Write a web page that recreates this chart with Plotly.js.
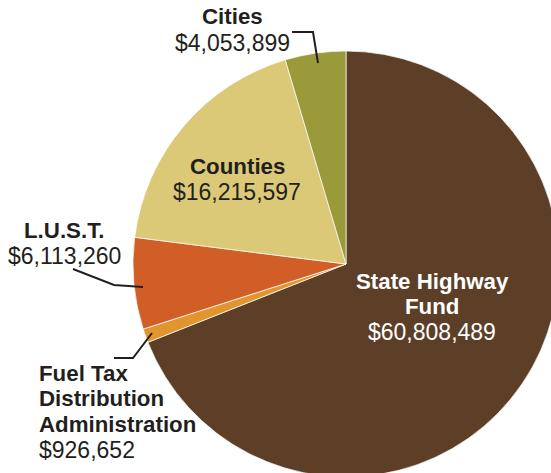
<!DOCTYPE html>
<html>
<head>
<meta charset="utf-8">
<script src="https://cdn.plot.ly/plotly-3.0.1.min.js"></script>
<style>
html,body{margin:0;padding:0;overflow:hidden;background:#fff;}
#chart{width:560px;height:480px;}
</style>
</head>
<body>
<div id="chart"></div>
<script>
// Data (clockwise from 12 o'clock)
var categories = ["State Highway Fund", "Fuel Tax Distribution Administration", "L.U.S.T.", "Counties", "Cities"];
var values = [60808489, 926652, 6113260, 16215597, 4053899];
var colors = ["#5D3F28", "#E0952F", "#D25E27", "#DCC977", "#9A9A3A"];
// Label lines as shown on the chart
var labelNames = [["State Highway", "Fund"], ["Fuel Tax", "Distribution", "Administration"], ["L.U.S.T."], ["Counties"], ["Cities"]];

var W = 560, H = 480;
function px(x){ return x / W; }
function py(y){ return 1 - y / H; }
function fmt(v){ return "$" + v.toLocaleString("en-US"); }

var cx = 346, cy = 264, r = 213;

var trace = {
  type: "pie",
  values: values,
  labels: categories,
  sort: false,
  direction: "clockwise",
  rotation: 0,
  textinfo: "none",
  hoverinfo: "label+value",
  marker: {colors: colors, line: {color: "#ffffff", width: 0.7}},
  domain: {x: [px(cx - r), px(cx + r)], y: [py(cy + r), py(cy - r)]},
  showlegend: false
};

var FS_BOLD = 22.3;
var FS_REG = 23;
var dark = "#231F20";
var fam = "Liberation Sans, Arial, Helvetica, sans-serif";

// label block settings
var blocks = [
  {i: 0, x: 432, y: 281, align: "center", color: "#ffffff"},
  {i: 1, x: 37, y: 373, align: "left", color: dark},
  {i: 2, x: 64, y: 230, align: "center", color: dark},
  {i: 3, x: 237, y: 166, align: "center", color: dark},
  {i: 4, x: 232, y: 17, align: "center", color: dark}
];
var LS = 25.7;
var annotations = [];
blocks.forEach(function(b){
  var lines = labelNames[b.i].map(function(t){ return {t: t, bold: true}; });
  lines.push({t: fmt(values[b.i]), bold: false});
  lines.forEach(function(l, k){
    annotations.push({
      xref: "paper", yref: "paper",
      x: px(b.x), y: py(b.y + k * LS),
      xanchor: b.align === "left" ? "left" : "center",
      yanchor: "middle",
      showarrow: false,
      text: l.bold ? "<b>" + l.t + "</b>" : l.t,
      font: {family: fam, size: l.bold ? FS_BOLD : FS_REG, color: b.color}
    });
  });
});

function path(pts){
  return pts.map(function(p, k){ return (k ? "L" : "M") + p[0] + "," + p[1]; }).join(" ");
}
// leader lines
var leaders = [
  [[292, 32], [313, 32], [318, 63]],
  [[73, 269], [114, 285], [143, 287]],
  [[114, 358], [133, 358], [152, 333]]
];
var shapes = leaders.map(function(pts){
  return {
    type: "path", xref: "paper", yref: "paper",
    path: path(pts.map(function(p){ return [px(p[0]), py(p[1])]; })),
    line: {color: dark, width: 2}
  };
});

var layout = {
  width: W, height: H,
  margin: {l: 0, r: 0, t: 0, b: 0},
  paper_bgcolor: "#ffffff",
  plot_bgcolor: "#ffffff",
  showlegend: false,
  annotations: annotations,
  shapes: shapes
};

Plotly.newPlot("chart", [trace], layout, {displayModeBar: false, staticPlot: true});
</script>
</body>
</html>
